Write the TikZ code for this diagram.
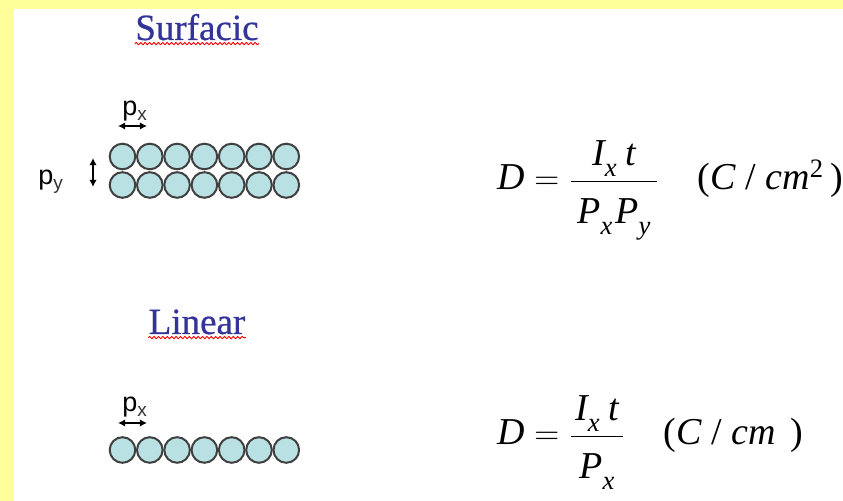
\documentclass[tikz,border=0pt]{standalone}
\usepackage{amsmath}
\usepackage{fontspec}
\setmainfont{Liberation Serif}
\newfontfamily\arialfont{Liberation Sans}
\newfontfamily\titlefont{Liberation Serif}[FakeBold=0.6]
\usepackage{tikz}
\usetikzlibrary{arrows.meta,decorations.pathmorphing}
\definecolor{slideyellow}{HTML}{FFFF99}
\definecolor{titleblue}{HTML}{333399}
\definecolor{beadfill}{HTML}{B9E0E2}
\definecolor{beadline}{HTML}{404040}
\tikzset{
  >={Latex[length=3.6pt,width=3.8pt]},
  every picture/.style={line cap=round, line join=round},
  title/.style={font=\titlefont\fontsize{18.5}{20}\selectfont, text=titleblue, anchor=base, inner sep=0pt},
  spell/.style={red, line width=0.45pt, decorate, decoration={snake, amplitude=0.6pt, segment length=2.2pt}},
  bead/.style={circle, draw=beadline, fill=beadfill, line width=1pt, minimum size=12.8pt, inner sep=0pt},
  pitch/.style={black, line width=0.8pt, <->},
  plbl/.style={font=\arialfont\fontsize{13.5}{14}\selectfont, anchor=base west, inner sep=0pt},
  eqn/.style={font=\fontsize{19}{22}\selectfont, anchor=base west, inner sep=0pt},
}
\newcommand{\mi}[1]{\textit{#1}}
\newcommand{\vsub}[1]{_{\lower3pt\hbox{$\scriptstyle\mi{#1}$}}}
\newcommand{\denstrut}{\rule{0pt}{18.6pt}}
\newcommand{\psub}[1]{\raisebox{-2.5pt}{\fontsize{9.5}{10}\selectfont\color{black!80}#1}}

\begin{document}
\begin{tikzpicture}[x=0.5pt, y=-0.5pt]
\useasboundingbox (0,0) rectangle (843,501);
\fill[slideyellow] (0,0) rectangle (843,501);
\fill[white] (14,9) rectangle (843,501);

% surfacic
\node[title] (sur) at (197,40) {Surfacic};
\draw[spell] ([yshift=-1.8pt]sur.base west) -- ([yshift=-1.8pt]sur.base east);
\foreach \k in {0,...,6} {
  \node[bead] (s1-\k) at (122.5+27.3*\k,156.5) {};
  \node[bead] (s2-\k) at (122.5+27.3*\k,185) {};
}
\node[plbl] (spx) at (122,116) {p\psub{x}};
\coordinate (spx-l) at (118,126);
\coordinate (spx-r) at (147,126);
\draw[pitch] (spx-l) -- (spx-r);
\node[plbl] (spy) at (38,185) {p\psub{y}};
\coordinate (spy-t) at (93,158);
\coordinate (spy-b) at (93,187);
\draw[pitch] (spy-t) -- (spy-b);
\node[eqn] (seq) at (497,190)
  {$\mi{D}=\dfrac{\mi{I}\vsub{x}\hspace{4pt}\mi{t}}
     {\hspace{3pt}\denstrut\mi{P}\vsub{x}\hspace{1pt}\mi{P}\vsub{y}\hspace{3pt}}$\quad
   (\mi{C} / \mi{cm}$^{\textup{2}}$\hspace{3pt})};

% linear
\node[title] (lin) at (197,334) {Linear};
\draw[spell] ([yshift=-1.8pt]lin.base west) -- ([yshift=-1.8pt]lin.base east);
\foreach \k in {0,...,6}
  \node[bead] (l-\k) at (122.5+27.3*\k,450) {};
\node[plbl] (lpx) at (122,412) {p\psub{x}};
\coordinate (lpx-l) at (118,423);
\coordinate (lpx-r) at (147,423);
\draw[pitch] (lpx-l) -- (lpx-r);
\node[eqn] (leq) at (497,445)
  {$\mi{D}=\dfrac{\hspace{2pt}\mi{I}\vsub{x}\hspace{4pt}\mi{t}\hspace{2pt}}
     {\denstrut\mi{P}\vsub{x}}$\quad
   (\mi{C} / \mi{cm}\phantom{$^{\textup{2}}$})};
\end{tikzpicture}
\end{document}
